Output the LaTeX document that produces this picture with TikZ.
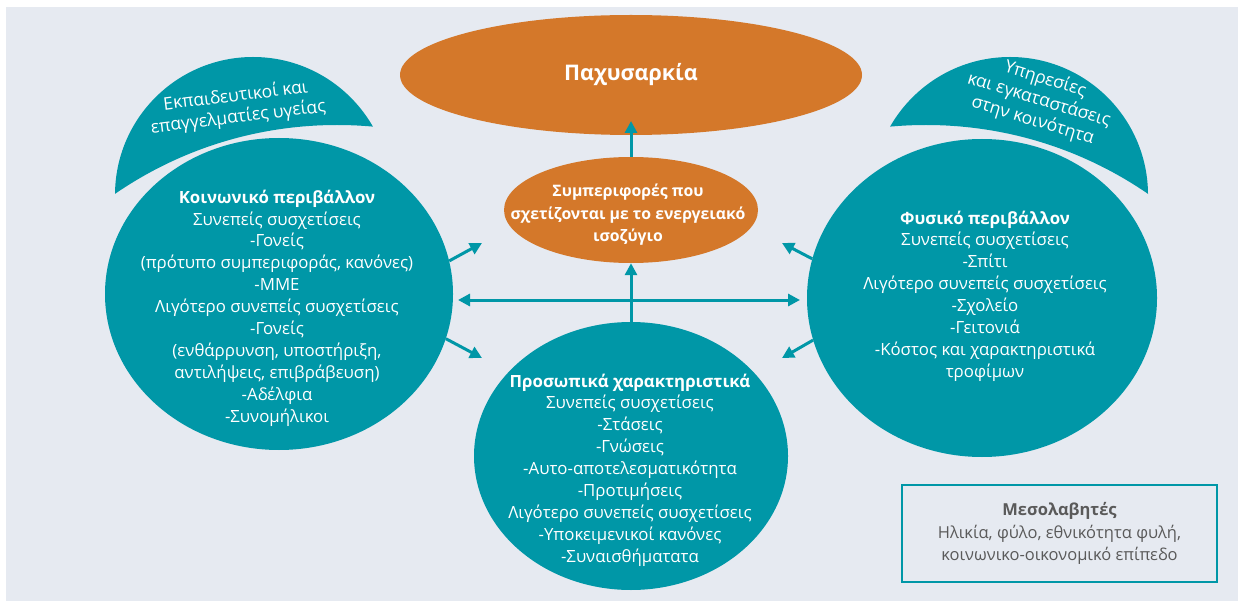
\documentclass[tikz,border=0pt]{standalone}
\usepackage{fontspec}
\setmainfont{Open Sans}
\usetikzlibrary{arrows.meta,shapes.geometric}
\definecolor{bgc}{HTML}{E6EAF1}
\definecolor{tealc}{HTML}{0097A7}
\definecolor{orc}{HTML}{D4782A}
\definecolor{txtc}{HTML}{5A5A5A}
\begin{document}
\begin{tikzpicture}[x=1pt,y=-1pt,
  blob/.style={ellipse, fill=tealc, inner sep=0pt},
  oblob/.style={ellipse, fill=orc, inner sep=0pt},
  wtxt/.style={text=white, align=center, inner sep=0pt, font=\fontsize{16.8}{21.9}\selectfont},
  captxt/.style={text=white, align=center, inner sep=0pt, font=\fontsize{17.5}{21.5}\selectfont},
  arr/.style={-{Triangle[length=12pt,width=12pt]}, draw=tealc, line width=3pt},
  darr/.style={{Triangle[length=12pt,width=12pt]}-{Triangle[length=12pt,width=12pt]}, draw=tealc, line width=3pt},
  ]
\useasboundingbox (0,0) rectangle (1238,601);
\fill[white] (0,0) rectangle (1238,601);
\fill[bgc] (6,7) rectangle (1238,601);
% caps
\begin{scope}[even odd rule]
  \clip (-50,-50) rectangle (1300,700) (337,517) circle[radius=392pt];
  \fill[tealc] (253,195) circle[radius=138pt];
\end{scope}
\begin{scope}[even odd rule]
  \clip (-50,-50) rectangle (1300,700) (926,517) circle[radius=392pt];
  \fill[tealc] (1010,195) circle[radius=138pt];
\end{scope}
\node[captxt, rotate=7] (edu) at (237,107) {Εκπαιδευτικοί και\\επαγγελματίες υγείας};
\node[captxt, rotate=-17] (srv) at (1039,100) {Υπηρεσίες\\και εγκαταστάσεις\\στην κοινότητα};
% main shapes
\node[oblob, minimum width=462pt, minimum height=120pt] (obe) at (631,75) {};
\node[oblob, minimum width=254pt, minimum height=106pt] (beh) at (631,210) {};
\node[blob, minimum width=348pt, minimum height=312pt] (soc) at (279,294) {};
\node[blob, minimum width=350pt, minimum height=318pt] (phy) at (982,298) {};
\node[blob, minimum width=314pt, minimum height=268pt] (per) at (631,456) {};
% texts
\node[text=white, inner sep=0pt, font=\bfseries\fontsize{21.5}{24}\selectfont] (obet) at (631,75) {Παχυσαρκία};
\node[wtxt, font=\bfseries\fontsize{15.8}{22.5}\selectfont] (beht) at (628,215) {Συμπεριφορές που\\σχετίζονται με το ενεργειακό\\ισοζύγιο};
\node[wtxt] (soct) at (277,308) {\textbf{Κοινωνικό περιβάλλον}\\Συνεπείς συσχετίσεις\\-Γονείς\\(πρότυπο συμπεριφοράς, κανόνες)\\-ΜΜΕ\\Λιγότερο συνεπείς συσχετίσεις\\-Γονείς\\(ενθάρρυνση, υποστήριξη,\\αντιλήψεις, επιβράβευση)\\-Αδέλφια\\-Συνομήλικοι};
\node[wtxt] (phyt) at (985,296) {\textbf{Φυσικό περιβάλλον}\\Συνεπείς συσχετίσεις\\-Σπίτι\\Λιγότερο συνεπείς συσχετίσεις\\-Σχολείο\\-Γειτονιά\\-Κόστος και χαρακτηριστικά\\τροφίμων};
\node[wtxt] (pert) at (630,470) {\textbf{Προσωπικά χαρακτηριστικά}\\Συνεπείς συσχετίσεις\\-Στάσεις\\-Γνώσεις\\-Αυτο-αποτελεσματικότητα\\-Προτιμήσεις\\Λιγότερο συνεπείς συσχετίσεις\\-Υποκειμενικοί κανόνες\\-Συναισθήματατα};
\node[draw=tealc, line width=2.5pt, fill=bgc, minimum width=315pt, minimum height=97pt, text=txtc, align=center, font=\fontsize{16.5}{22.5}\selectfont] (med) at (1059.5,533.5) {\textbf{Μεσολαβητές}\\Ηλικία, φύλο, εθνικότητα φυλή,\\κοινωνικο-οικονομικό επίπεδο};
% connectors
\coordinate (tLU) at (482,243);
\coordinate (tLD) at (482,358);
\coordinate (tRU) at (782,243);
\coordinate (tRD) at (782,358);
\coordinate (hL) at (458,300);
\coordinate (hR) at (800,300);
\coordinate (tTop) at (631,121);
\draw[arr] (soc.11) -- (tLU);
\draw[arr] (soc.-15) -- (tLD);
\draw[arr] (phy.167) -- (tRU);
\draw[arr] (phy.194) -- (tRD);
\draw[darr] (hL) -- (hR);
\draw[arr] (per) -- (beh);
\draw[arr] (beh) -- (tTop);
\end{tikzpicture}
\end{document}
